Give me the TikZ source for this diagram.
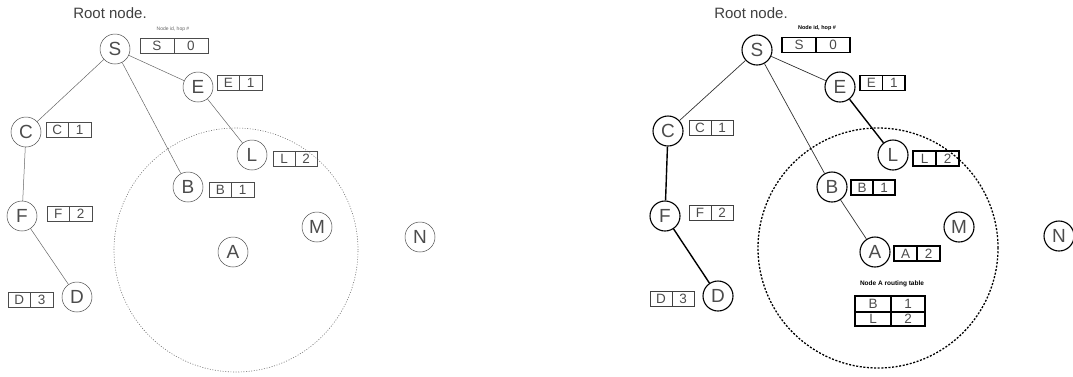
\documentclass[tikz,border=0pt]{standalone}
\usepackage{fontspec}
\setmainfont{Liberation Sans}
\begin{document}
\begin{tikzpicture}[x=1pt,y=-1pt,
  nodeL/.style={circle,draw=black!70,line width=0.5pt,minimum size=30pt,inner sep=0pt,
    text=black!70,font=\fontsize{19}{19}\selectfont},
  nodeR/.style={nodeL,draw=black,line width=1.1pt},
  cell/.style={draw=black!70,line width=0.5pt,minimum height=15pt,inner sep=0pt,outer sep=0pt,
    text=black!70,font=\fontsize{13.5}{13.5}\selectfont},
  cellR/.style={draw=black,line width=1.1pt},
  cellRthin/.style={draw=black!75,line width=0.7pt},
  linkL/.style={draw=black!60,line width=0.5pt},
  linkR/.style={draw=black!80,line width=0.7pt},
  linkB/.style={draw=black,line width=1.4pt},
  rangeL/.style={draw=black!55,line width=0.6pt,dash pattern=on 1pt off 1.6pt},
  rangeR/.style={draw=black,line width=1.3pt,dash pattern=on 2pt off 1.6pt},
  caption/.style={text=black!75,font=\fontsize{15}{15}\selectfont},
]
\useasboundingbox (0,0) rectangle (1073,376);

% two-cell (node id | hop) box: name, extra style, west point, id, hop, cell width
\newcommand\hopbox[6]{%
  \node[cell,#2,minimum width=#6,anchor=west] (#1id) at #3 {#4};
  \node[cell,#2,minimum width=#6,anchor=west] (#1hop) at (#1id.east) {#5};
}

% ---------------- left panel: flooding from the root ----------------
\node[caption] (rootL) at (110,13) {Root node.};
\node[text=black!60,font=\fontsize{5}{5}\selectfont] (hdrL) at (173,29) {Node id, hop \#};

\node[nodeL] (S) at (115,49) {S};
\node[nodeL] (E) at (198,87) {E};
\node[nodeL] (C) at (26,132) {C};
\node[nodeL] (F) at (22,216) {F};
\node[nodeL] (D) at (77,297) {D};
\node[nodeL] (L) at (252,155) {L};
\node[nodeL] (B) at (188,187) {B};
\node[nodeL] (M) at (317,227) {M};
\node[nodeL] (A) at (233,252) {A};
\node[nodeL] (N) at (420,237) {N};

\coordinate (rcL) at (236,250);
\draw[rangeL] (rcL) circle[radius=122pt];

\draw[linkL] (S) -- (C);
\draw[linkL] (S) -- (B);
\draw[linkL] (S) -- (E);
\draw[linkL] (E) -- (L);
\draw[linkL] (C) -- (F);
\draw[linkL] (F) -- (D);

\hopbox{bS}{}{(140,45.5)}{S}{0}{34pt}
\hopbox{bE}{}{(217,83)}{E}{1}{22.5pt}
\hopbox{bC}{}{(46,129.5)}{C}{1}{22.5pt}
\hopbox{bF}{}{(47,214)}{F}{2}{22.5pt}
\hopbox{bD}{}{(8,300)}{D}{3}{22.5pt}
\hopbox{bL}{}{(273,159)}{L}{2}{22pt}
\hopbox{bB}{}{(209,190)}{B}{1}{22.5pt}

% ---------------- right panel: A joins through B ----------------
\node[caption] (rootR) at (751,13) {Root node.};
\node[text=black,font=\bfseries\fontsize{5.5}{5.5}\selectfont] (hdrR) at (817,28) {Node id, hop \#};

\node[nodeR] (S2) at (757,50) {S};
\node[nodeR] (E2) at (840,87) {E};
\node[nodeR] (C2) at (668,131) {C};
\node[nodeR] (F2) at (665,216) {F};
\node[nodeR] (D2) at (718,296) {D};
\node[nodeR] (L2) at (893,155) {L};
\node[nodeR] (B2) at (832,187) {B};
\node[nodeR] (A2) at (875,252) {A};
\node[nodeR] (M2) at (959,227) {M};
\node[nodeR] (N2) at (1059,236) {N};

\coordinate (rcR) at (878,248);
\draw[rangeR] (rcR) circle[radius=120pt];

\draw[linkR] (S2) -- (C2);
\draw[linkR] (S2) -- (B2);
\draw[linkR] (S2) -- (E2);
\draw[linkB] (E2) -- (L2);
\draw[linkB] (C2) -- (F2);
\draw[linkB] (F2) -- (D2);
\draw[linkR] (B2) -- (A2);

\hopbox{cS}{cellR}{(782,45)}{S}{0}{34pt}
\hopbox{cE}{cellR}{(860,83)}{E}{1}{22.5pt}
\hopbox{cC}{cellRthin}{(689,128)}{C}{1}{22pt}
\hopbox{cF}{cellRthin}{(689,213)}{F}{2}{22pt}
\hopbox{cD}{cellRthin}{(650,298.5)}{D}{3}{22pt}
\hopbox{cL}{cellR}{(913,158.5)}{L}{2}{23pt}
\hopbox{cB}{cellR}{(851,187.5)}{B}{1}{22pt}
\hopbox{cA}{cellR}{(894,253.5)}{A}{2}{23pt}

% routing table of node A
\node[text=black,font=\bfseries\fontsize{6.5}{6.5}\selectfont] (rtcap) at (892,284) {Node A routing table};
\node[cell,cellR,minimum width=36pt,minimum height=16pt,anchor=north west] (tB) at (855,296) {B};
\node[cell,cellR,minimum width=34pt,minimum height=16pt,anchor=north west] (t1) at (tB.north east) {1};
\node[cell,cellR,minimum width=36pt,minimum height=14pt,anchor=north west] (tL) at (tB.south west) {L};
\node[cell,cellR,minimum width=34pt,minimum height=14pt,anchor=north west] (t2) at (tL.north east) {2};
\end{tikzpicture}
\end{document}
